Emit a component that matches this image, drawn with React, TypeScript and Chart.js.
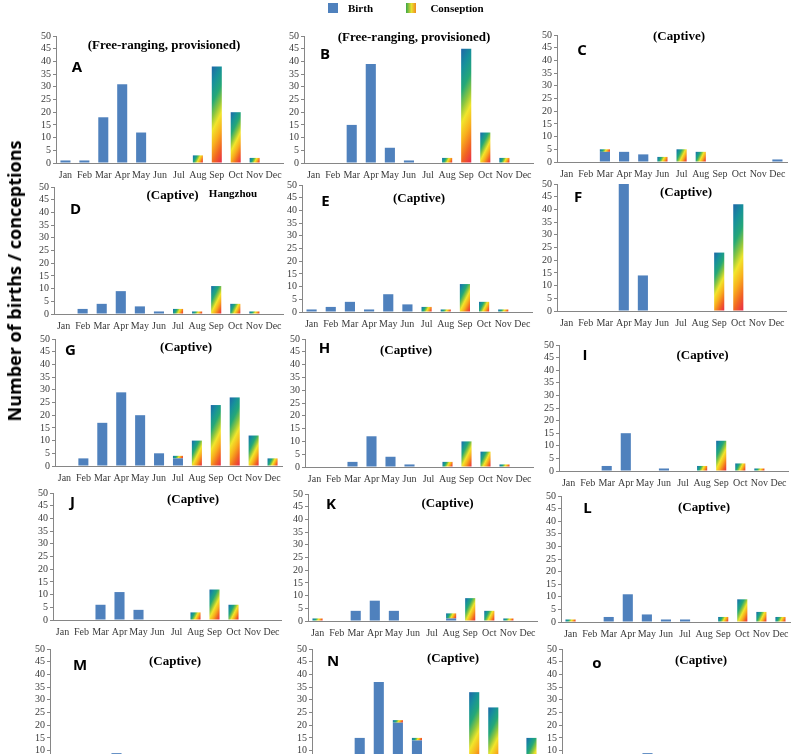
import React, { useEffect, useRef } from "react";
import { Chart, registerables } from "chart.js";

Chart.register(...registerables);

// ---------- data ----------
const months = ["Jan", "Feb", "Mar", "Apr", "May", "Jun", "Jul", "Aug", "Sep", "Oct", "Nov", "Dec"];
const yMax = 50;
const yStep = 5;

const birthA = [1, 1, 18, 31, 12, 0, 0, 0, 0, 0, 0, 0];
const conA = [0, 0, 0, 0, 0, 0, 0, 3, 38, 20, 2, 0];
const birthB = [0, 0, 15, 39, 6, 1, 0, 0, 0, 0, 0, 0];
const conB = [0, 0, 0, 0, 0, 0, 0, 2, 45, 12, 2, 0];
const birthC = [0, 0, 4, 4, 3, 0, 0, 0, 0, 0, 0, 1];
const conC = [0, 0, 1, 0, 0, 2, 5, 4, 0, 0, 0, 0];
const birthD = [0, 2, 4, 9, 3, 1, 0, 0, 0, 0, 0, 0];
const conD = [0, 0, 0, 0, 0, 0, 2, 1, 11, 4, 1, 0];
const birthE = [1, 2, 4, 1, 7, 3, 0, 0, 0, 0, 0, 0];
const conE = [0, 0, 0, 0, 0, 0, 2, 1, 11, 4, 1, 0];
const birthF = [0, 0, 0, 50, 14, 0, 0, 0, 0, 0, 0, 0];
const conF = [0, 0, 0, 0, 0, 0, 0, 0, 23, 42, 0, 0];
const birthG = [0, 3, 17, 29, 20, 5, 3, 0, 0, 0, 0, 0];
const conG = [0, 0, 0, 0, 0, 0, 1, 10, 24, 27, 12, 3];
const birthH = [0, 0, 2, 12, 4, 1, 0, 0, 0, 0, 0, 0];
const conH = [0, 0, 0, 0, 0, 0, 0, 2, 10, 6, 1, 0];
const birthI = [0, 0, 2, 15, 0, 1, 0, 0, 0, 0, 0, 0];
const conI = [0, 0, 0, 0, 0, 0, 0, 2, 12, 3, 1, 0];
const birthJ = [0, 0, 6, 11, 4, 0, 0, 0, 0, 0, 0, 0];
const conJ = [0, 0, 0, 0, 0, 0, 0, 3, 12, 6, 0, 0];
const birthK = [0, 0, 4, 8, 4, 0, 0, 1, 0, 0, 0, 0];
const conK = [1, 0, 0, 0, 0, 0, 0, 2, 9, 4, 1, 0];
const birthL = [0, 0, 2, 11, 3, 1, 1, 0, 0, 0, 0, 0];
const conL = [1, 0, 0, 0, 0, 0, 0, 0, 2, 9, 4, 2];
const birthM = [0, 0, 0, 9, 0, 0, 0, 0, 0, 0, 0, 0];
const conM = [0, 0, 0, 0, 0, 0, 0, 0, 0, 0, 0, 0];
const birthN = [0, 0, 15, 37, 21, 14, 0, 0, 0, 0, 0, 0];
const conN = [0, 0, 0, 0, 1, 1, 0, 0, 33, 27, 0, 15];
const birthO = [0, 0, 0, 0, 9, 0, 0, 0, 0, 0, 0, 0];
const conO = [0, 0, 0, 0, 0, 0, 0, 0, 0, 0, 0, 0];

const birthLabel = "Birth";
const conLabel = "Conseption";
const yTitle = "Number of births / conceptions";
const freeTitle = "(Free-ranging, provisioned)";
const captiveTitle = "(Captive)";

// ---------- layout ----------
const YW = 30; // y-axis box width
const XH = 22; // x-axis box height
const PT = 8;
const PR = 6;
const BAR_PCT = 0.53;

const BLUE = "#4f81bd";
const AXIS = "#868686";
const TICK = "#3a3a3a";
const SERIF = '"Liberation Serif", "Times New Roman", serif';
const SANS = '"Open Sans", "Liberation Sans", sans-serif';

type Panel = {
  birth: number[];
  con: number[];
  area: [number, number, number, number];
  letter: string;
  letterPos: [number, number];
  title: string;
  titlePos: [number, number];
  extra?: { text: string; pos: [number, number] };
};

const panels: Panel[] = [
  { birth: birthA, con: conA, area: [56, 36, 283, 163], letter: "A", letterPos: [77, 66], title: freeTitle, titlePos: [164, 44] },
  { birth: birthB, con: conB, area: [304, 36, 533, 163], letter: "B", letterPos: [325, 53], title: freeTitle, titlePos: [414, 36] },
  { birth: birthC, con: conC, area: [557, 35, 787, 162], letter: "C", letterPos: [582, 49], title: captiveTitle, titlePos: [679, 35] },
  { birth: birthD, con: conD, area: [54, 187, 283, 314], letter: "D", letterPos: [75.5, 208], title: captiveTitle, titlePos: [172.5, 194], extra: { text: "Hangzhou", pos: [233, 192.5] } },
  { birth: birthE, con: conE, area: [302, 185, 532, 312], letter: "E", letterPos: [325.5, 199.5], title: captiveTitle, titlePos: [419, 196.5] },
  { birth: birthF, con: conF, area: [557, 184, 786, 311], letter: "F", letterPos: [578, 195.5], title: captiveTitle, titlePos: [686, 190.5] },
  { birth: birthG, con: conG, area: [55, 339, 282, 466], letter: "G", letterPos: [70.5, 348.5], title: captiveTitle, titlePos: [186, 345.5] },
  { birth: birthH, con: conH, area: [305, 339, 533, 467], letter: "H", letterPos: [324.5, 347], title: captiveTitle, titlePos: [406, 349] },
  { birth: birthI, con: conI, area: [559, 345, 788, 471], letter: "I", letterPos: [585, 354], title: captiveTitle, titlePos: [702.5, 353.5] },
  { birth: birthJ, con: conJ, area: [53, 493, 281, 620], letter: "J", letterPos: [72.5, 500.5], title: captiveTitle, titlePos: [193, 498] },
  { birth: birthK, con: conK, area: [308, 494, 537, 621], letter: "K", letterPos: [331, 503], title: captiveTitle, titlePos: [447.5, 502] },
  { birth: birthL, con: conL, area: [561, 496, 790, 622], letter: "L", letterPos: [587.5, 506.5], title: captiveTitle, titlePos: [704, 505.5] },
  { birth: birthM, con: conM, area: [50, 649, 278, 776], letter: "M", letterPos: [80, 663.5], title: captiveTitle, titlePos: [175, 660] },
  { birth: birthN, con: conN, area: [312, 649, 541, 776], letter: "N", letterPos: [333, 659.5], title: captiveTitle, titlePos: [453, 657] },
  { birth: birthO, con: conO, area: [562, 649, 790, 776], letter: "o", letterPos: [597, 662], title: captiveTitle, titlePos: [701, 659] },
];

const GRAD_STOPS: [number, string][] = [
  [0, "#2065a8"],
  [0.16, "#168f9c"],
  [0.32, "#25a877"],
  [0.45, "#8dc63f"],
  [0.56, "#f1e52b"],
  [0.7, "#f8b01d"],
  [0.85, "#f16423"],
  [1, "#e8274c"],
];

const FALLBACK = "#f1c42b";

function conceptionFill(ctx: any, birth: number[], con: number[]) {
  try {
    const chart = ctx.chart;
    const xs = chart.scales && chart.scales.x;
    const ys = chart.scales && chart.scales.y;
    if (!xs || !ys || ctx.type !== "data") return FALLBACK;
    const i = ctx.dataIndex;
    const v = con[i];
    if (!v) return FALLBACK;
    const cx = xs.getPixelForValue(i);
    const w = (xs.width / months.length) * BAR_PCT;
    const top = ys.getPixelForValue(birth[i] + v);
    const bot = ys.getPixelForValue(birth[i]);
    if (![cx, w, top, bot].every((n) => Number.isFinite(n)) || w <= 0) return FALLBACK;
    const h = Math.max(bot - top, 1);
    const x0 = cx - w / 2;
    const k = (2 * w + h) / 5;
    const g = chart.ctx.createLinearGradient(x0, top, x0 + 2 * k, top + k);
    GRAD_STOPS.forEach(([o, c]) => g.addColorStop(o, c));
    return g;
  } catch (e) {
    return FALLBACK;
  }
}

function PanelChart({ p }: { p: Panel }) {
  const ref = useRef<HTMLCanvasElement | null>(null);
  const [L, T, R, B] = p.area;
  const left = L - YW;
  const top = T - PT;
  const width = R - L + YW + PR;
  const height = B - T + PT + XH;

  useEffect(() => {
    if (!ref.current) return;
    const chart = new Chart(ref.current, {
      type: "bar",
      data: {
        labels: months,
        datasets: [
          {
            label: birthLabel,
            data: p.birth,
            backgroundColor: BLUE,
            borderWidth: 0,
            barPercentage: BAR_PCT,
            categoryPercentage: 1,
          },
          {
            label: conLabel,
            data: p.con,
            backgroundColor: (c: any) => conceptionFill(c, p.birth, p.con),
            borderWidth: 0,
            barPercentage: BAR_PCT,
            categoryPercentage: 1,
          },
        ],
      },
      options: {
        animation: false,
        responsive: false,
        maintainAspectRatio: false,
        events: [],
        layout: { padding: { top: PT, right: PR, left: 0, bottom: 0 } },
        plugins: { legend: { display: false }, tooltip: { enabled: false } },
        scales: {
          x: {
            stacked: true,
            grid: { display: false, drawTicks: false },
            border: { display: true, color: AXIS, width: 1 },
            ticks: {
              font: { family: SERIF, size: 10 },
              color: TICK,
              padding: 6,
              maxRotation: 0,
              minRotation: 0,
              autoSkip: false,
            },
            afterFit: (s: any) => {
              s.height = XH;
            },
          },
          y: {
            stacked: true,
            min: 0,
            max: yMax,
            ticks: {
              stepSize: yStep,
              autoSkip: false,
              font: { family: SERIF, size: 10 },
              color: TICK,
              padding: 2,
            },
            grid: { display: true, drawOnChartArea: false, drawTicks: true, tickLength: 3, color: AXIS },
            border: { display: true, color: AXIS, width: 1 },
            afterFit: (s: any) => {
              s.width = YW;
            },
          },
        },
      },
    } as any);
    chart.update("none");
    return () => chart.destroy();
  }, [p]);

  return (
    <canvas
      ref={ref}
      width={width}
      height={height}
      style={{ position: "absolute", left, top, width, height }}
    />
  );
}

const centered = (x: number, y: number): React.CSSProperties => ({
  position: "absolute",
  left: x,
  top: y,
  transform: "translate(-50%, -50%)",
  whiteSpace: "nowrap",
  lineHeight: 1,
});

export default function App() {
  return (
    <div style={{ position: "relative", width: 793, height: 754, overflow: "hidden", background: "#fff" }}>
      <style>{`html,body{margin:0;padding:0;overflow:hidden;background:#fff}`}</style>
      {panels.map((p, i) => (
        <PanelChart key={i} p={p} />
      ))}
      {panels.map((p, i) => (
        <React.Fragment key={"t" + i}>
          <div style={{ ...centered(p.letterPos[0], p.letterPos[1]), fontFamily: SANS, fontWeight: 700, fontSize: 15, color: "#000" }}>
            {p.letter}
          </div>
          <div style={{ ...centered(p.titlePos[0], p.titlePos[1]), fontFamily: SERIF, fontWeight: 700, fontSize: 13, color: "#000" }}>
            {p.title}
          </div>
          {p.extra && (
            <div style={{ ...centered(p.extra.pos[0], p.extra.pos[1]), fontFamily: SERIF, fontWeight: 700, fontSize: 11, color: "#000" }}>
              {p.extra.text}
            </div>
          )}
        </React.Fragment>
      ))}
      {/* legend */}
      <div style={{ position: "absolute", left: 328, top: 3, width: 10, height: 10, background: BLUE }} />
      <div style={{ ...centered(360.5, 8), fontFamily: SERIF, fontWeight: 700, fontSize: 11, color: "#000" }}>{birthLabel}</div>
      <div
        style={{
          position: "absolute",
          left: 406,
          top: 3,
          width: 10,
          height: 10,
          background: "linear-gradient(90deg, #3aa64a, #e8e030 55%, #f08a20)",
        }}
      />
      <div style={{ ...centered(457, 8), fontFamily: SERIF, fontWeight: 700, fontSize: 11, color: "#000" }}>{conLabel}</div>
      {/* y-axis title */}
      <div
        style={{
          position: "absolute",
          left: 14,
          top: 281,
          transform: "translate(-50%, -50%) rotate(-90deg)",
          whiteSpace: "nowrap",
          fontFamily: SANS,
          fontWeight: 700,
          fontSize: 18,
          color: "#000",
        }}
      >
        {yTitle}
      </div>
    </div>
  );
}
